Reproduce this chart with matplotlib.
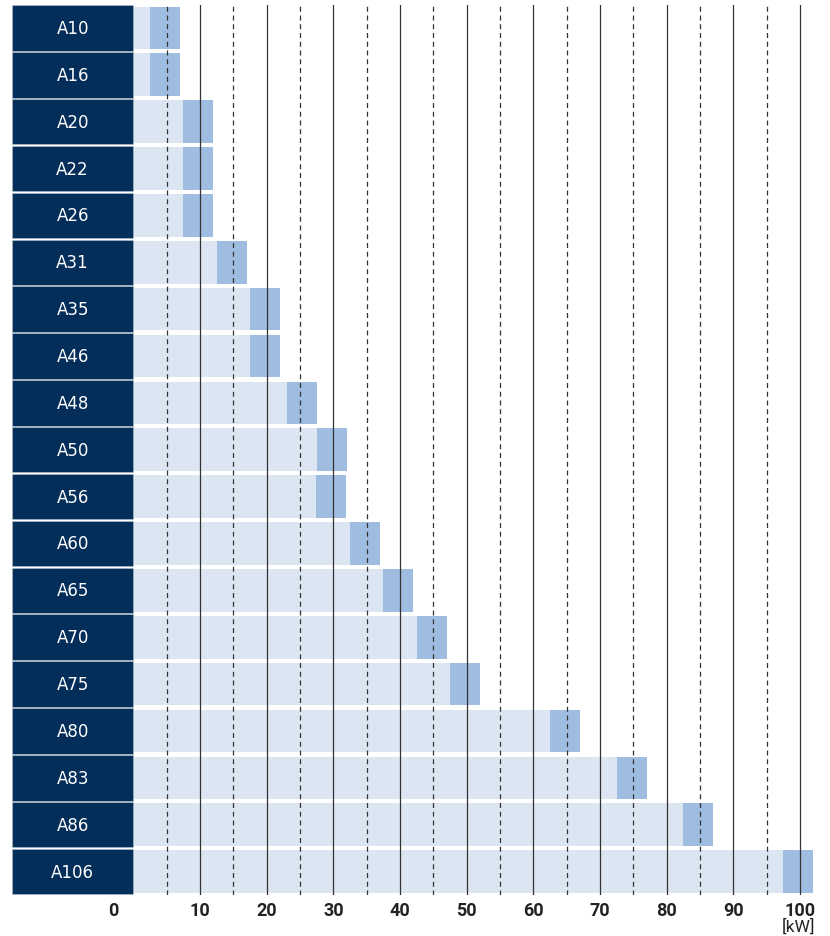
import matplotlib
matplotlib.use("Agg")
import matplotlib.pyplot as plt
import matplotlib.transforms as mtransforms
from matplotlib.patches import Rectangle

models = ["A10", "A16", "A20", "A22", "A26", "A31", "A35", "A46", "A48", "A50",
          "A56", "A60", "A65", "A70", "A75", "A80", "A83", "A86", "A106"]
range_min = [2.5, 2.5, 7.5, 7.5, 7.5, 12.5, 17.5, 17.5, 23.0, 27.5,
             27.4, 32.5, 37.5, 42.5, 47.5, 62.5, 72.5, 82.5, 97.5]
range_max = [7.0, 7.0, 12.0, 12.0, 12.0, 17.0, 22.0, 22.0, 27.5, 32.0,
             31.9, 37.0, 42.0, 47.0, 52.0, 67.0, 77.0, 87.0, 102.0]
major_ticks = [0, 10, 20, 30, 40, 50, 60, 70, 80, 90, 100]
minor_ticks = [5, 15, 25, 35, 45, 55, 65, 75, 85, 95]
unit_label = "[kW]"

NAVY = "#042e5a"
LIGHT = "#dce6f3"
MID = "#9fbde0"
GRID = "#333333"
TEXT = "#222222"

W, H = 830, 937
fig = plt.figure(figsize=(W / 100, H / 100), dpi=100)
left_px, right_px, top_px, bottom_px = 12, 813.3, 5.5, 896
ax = fig.add_axes([left_px / W, (H - bottom_px) / H,
                   (right_px - left_px) / W, (bottom_px - top_px) / H])

label_x0 = -18.2
ax.set_xlim(label_x0, 102)
n = len(models)
ax.set_ylim(n - 0.5, -0.5)

ys = list(range(n))
# light background bars from 0 to start of range
ax.barh(ys, range_min, left=0, height=0.91, color=LIGHT, zorder=1)
# darker range segments
ax.barh(ys, [b - a for a, b in zip(range_min, range_max)], left=range_min,
        height=0.91, color=MID, zorder=2)

# label boxes
for i, m in enumerate(models):
    ax.add_patch(Rectangle((label_x0, i - 0.485), -label_x0, 0.97,
                           facecolor=NAVY, edgecolor="#b8c2cc", linewidth=0.4,
                           zorder=3))
    ax.text(label_x0 / 2, i, m, color="white", ha="center", va="center",
            fontsize=12, family="DejaVu Sans", zorder=4)

for x in major_ticks[1:]:
    ax.axvline(x, color=GRID, lw=0.9, zorder=5)
for x in minor_ticks:
    ax.axvline(x, color=GRID, lw=0.9, ls=(0, (4, 3)), zorder=5)

for s in ax.spines.values():
    s.set_visible(False)
ax.set_yticks([])
ax.set_xticks(major_ticks)
ax.set_xticklabels([str(t) for t in major_ticks], fontsize=13, fontweight="bold",
                   color=TEXT, family=["Roboto", "DejaVu Sans"])
ax.tick_params(axis="x", length=0, pad=4)
# shift the "0" label to the left of the label column edge
lab0 = ax.get_xticklabels()[0]
lab0.set_transform(lab0.get_transform() +
                   mtransforms.ScaledTranslation(-20.5 / 100, 0, fig.dpi_scale_trans))

ax.annotate(unit_label, xy=(100, 0), xycoords=("data", "axes fraction"),
            xytext=(-1, -16), textcoords="offset points", ha="center", va="top",
            fontsize=12.5, color=TEXT, family=["Roboto", "DejaVu Sans"])

fig.savefig("out.png", dpi=100)
